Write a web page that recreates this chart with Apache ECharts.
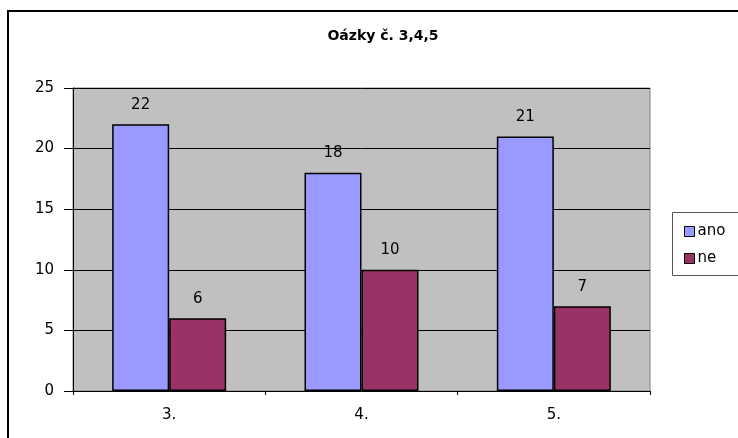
<!DOCTYPE html>
<html>
<head>
<meta charset="utf-8">
<script src="https://cdn.jsdelivr.net/npm/echarts@6/dist/echarts.min.js"></script>
<style>
  html, body { margin: 0; padding: 0; background: #fff; }
  #chart { width: 738px; height: 438px; }
</style>
</head>
<body>
<div id="chart"></div>
<script>
const categories = ['3.', '4.', '5.'];
const anoValues = [22, 18, 21];
const neValues = [6, 10, 7];
const seriesNames = ['ano', 'ne'];

// původní obrázek je vodorovně roztažený, širší písmo sedí lépe
const font = '"DejaVu Sans", Arial, sans-serif';
const chart = echarts.init(document.getElementById('chart'));

const option = {
  backgroundColor: '#fff',
  animation: false,
  title: {
    text: 'Oázky č. 3,4,5',
    left: 378, top: 24, textAlign: 'center',
    textStyle: { fontFamily: font, fontSize: 14, fontWeight: 'bold', color: '#000' }
  },
  graphic: [
    // okraj celého grafu
    { type: 'rect', shape: { x: 8, y: 11, width: 760, height: 460 },
      style: { fill: 'none', stroke: '#000', lineWidth: 2 }, z: 0 },
    // rámeček legendy
    { type: 'rect', shape: { x: 672.5, y: 212.5, width: 80, height: 63 },
      style: { fill: '#fff', stroke: '#555', lineWidth: 1 }, z: 1 }
  ],
  legend: {
    orient: 'vertical',
    left: 679, top: 219,
    itemWidth: 10, itemHeight: 10, itemGap: 12,
    icon: 'rect',
    itemStyle: { borderColor: '#000', borderWidth: 1 },
    data: seriesNames,
    textStyle: { fontFamily: font, fontSize: 15, color: '#000', padding: [0, 0, 0, -2] },
    z: 5
  },
  grid: {
    left: 73, right: 88, top: 88, bottom: 47,
    show: true, backgroundColor: '#C0C0C0', borderColor: '#808080', borderWidth: 1
  },
  xAxis: {
    type: 'category',
    data: categories,
    axisLine: { lineStyle: { color: '#000', width: 1 } },
    axisTick: { show: true, alignWithLabel: false, length: 4, lineStyle: { color: '#000' } },
    axisLabel: { fontFamily: font, fontSize: 15, color: '#000', margin: 17 }
  },
  yAxis: {
    type: 'value',
    min: 0, max: 25, interval: 5,
    axisLine: { show: true, lineStyle: { color: '#000', width: 1 } },
    axisTick: { show: true, inside: false, length: 9, lineStyle: { color: '#000' } },
    axisLabel: { fontFamily: font, fontSize: 15, color: '#000', margin: 19 },
    splitLine: { show: true, lineStyle: { color: '#000', width: 1 } }
  },
  series: [
    {
      name: 'ano', type: 'bar', data: anoValues,
      barWidth: 57, barGap: '0%',
      itemStyle: { color: '#9999FF', borderColor: '#000', borderWidth: 1.5 },
      label: { show: true, position: 'top', distance: 12, fontFamily: font, fontSize: 15, color: '#000' }
    },
    {
      name: 'ne', type: 'bar', data: neValues,
      barWidth: 57, barGap: '0%',
      itemStyle: { color: '#993366', borderColor: '#000', borderWidth: 1.5 },
      label: { show: true, position: 'top', distance: 12, fontFamily: font, fontSize: 15, color: '#000' }
    }
  ]
};

chart.setOption(option);
</script>
</body>
</html>
